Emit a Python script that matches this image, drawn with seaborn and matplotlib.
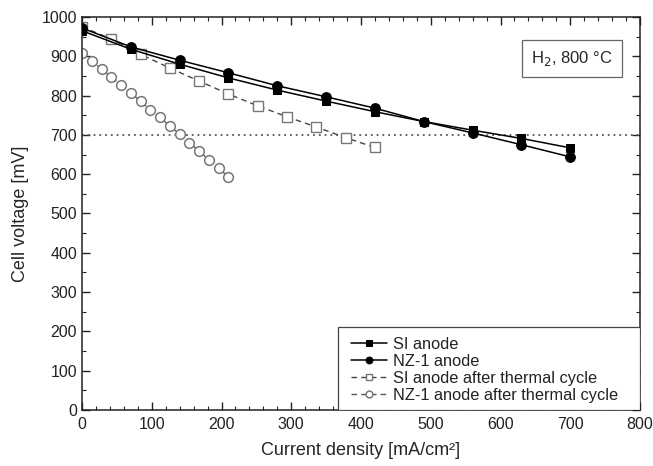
import matplotlib
matplotlib.use("Agg")
import matplotlib.pyplot as plt
import seaborn as sns
import pandas as pd
from matplotlib.ticker import MultipleLocator
from matplotlib.patches import Rectangle

# data
si_x = [0, 70, 140, 210, 280, 350, 420, 490, 560, 630, 700]
si_y = [965, 918, 880, 845, 814, 786, 759, 734, 712, 691, 667]
nz_x = [0, 70, 140, 210, 280, 350, 420, 490, 560, 630, 700]
nz_y = [972, 924, 890, 858, 825, 797, 768, 734, 705, 675, 644]
si_tc_x = [0, 42, 84, 126, 168, 210, 252, 294, 336, 378, 420]
si_tc_y = [975, 944, 905, 870, 837, 804, 774, 746, 720, 693, 668]
nz_tc_x = [0, 14, 28, 42, 56, 70, 84, 98, 112, 126, 140, 154, 168, 182, 196, 210]
nz_tc_y = [908, 888, 867, 847, 826, 806, 786, 763, 745, 722, 702, 679, 659, 636, 616, 592]

sns.set_style("ticks")
plt.rcParams['font.family'] = ['Liberation Sans', 'DejaVu Sans']

fig = plt.figure(figsize=(6.53, 4.66), dpi=100)
ax = fig.add_axes([0.1256, 0.1202, 0.8545, 0.8433])

ax.axhline(700, color="#555555", linestyle=(0, (1, 2.2)), linewidth=1.3, zorder=1)

sns.lineplot(x=si_x, y=si_y, ax=ax, color="black", linewidth=1.1, marker="s",
             markersize=6, markeredgecolor="black", label="SI anode", zorder=3)
sns.lineplot(x=nz_x, y=nz_y, ax=ax, color="black", linewidth=1.1, marker="o",
             markersize=7, markeredgecolor="black", label="NZ-1 anode", zorder=3)
sns.lineplot(x=si_tc_x, y=si_tc_y, ax=ax, color="#444444", linewidth=1.0,
             linestyle=(0, (4, 3)), marker="s", markersize=6.5, markerfacecolor="white",
             markeredgecolor="#777777", markeredgewidth=1.0,
             label="SI anode after thermal cycle", zorder=2)
sns.lineplot(x=nz_tc_x, y=nz_tc_y, ax=ax, color="#555555", linewidth=1.0,
             linestyle=(0, (4, 3)), marker="o", markersize=7, markerfacecolor="white",
             markeredgecolor="#777777", markeredgewidth=1.1,
             label="NZ-1 anode after thermal cycle", zorder=2)

ax.set_xlim(0, 800)
ax.set_ylim(0, 1000)
ax.xaxis.set_major_locator(MultipleLocator(100))
ax.xaxis.set_minor_locator(MultipleLocator(20))
ax.yaxis.set_major_locator(MultipleLocator(100))
ax.yaxis.set_minor_locator(MultipleLocator(50))
ax.tick_params(which="both", direction="in", top=True, right=True, labelsize=11.5, colors="#222222")
ax.tick_params(which="major", length=6, width=1)
ax.tick_params(which="minor", length=3, width=0.8)
ax.tick_params(axis="x", pad=5)
for s in ax.spines.values():
    s.set_linewidth(1.1)
    s.set_color("#222222")

ax.set_xlabel("Current density [mA/cm²]", fontsize=13, labelpad=7)
ax.set_ylabel("Cell voltage [mV]", fontsize=13, labelpad=9)

ax.text(0.805, 0.895, "H$_2$, 800 °C", transform=ax.transAxes, fontsize=12,
        ha="left", va="center",
        bbox=dict(boxstyle="square,pad=0.55", facecolor="white", edgecolor="#666666", linewidth=0.9))

# legend box frame (wider than the entries, as in the reference)
ax.add_patch(Rectangle((0.459, 0.0), 0.541, 0.211, transform=ax.transAxes,
                       facecolor="white", edgecolor="#444444", linewidth=0.9, zorder=4))
leg = ax.legend(loc="lower right", bbox_to_anchor=(0.97, 0.005), frameon=False,
                fontsize=11.8, borderaxespad=0, handlelength=2.2, labelspacing=0.12,
                markerscale=0.7, borderpad=0.3, handletextpad=0.4)
leg.set_zorder(5)
for t in leg.get_texts():
    t.set_color("#222222")

fig.savefig("out.png", dpi=100)
